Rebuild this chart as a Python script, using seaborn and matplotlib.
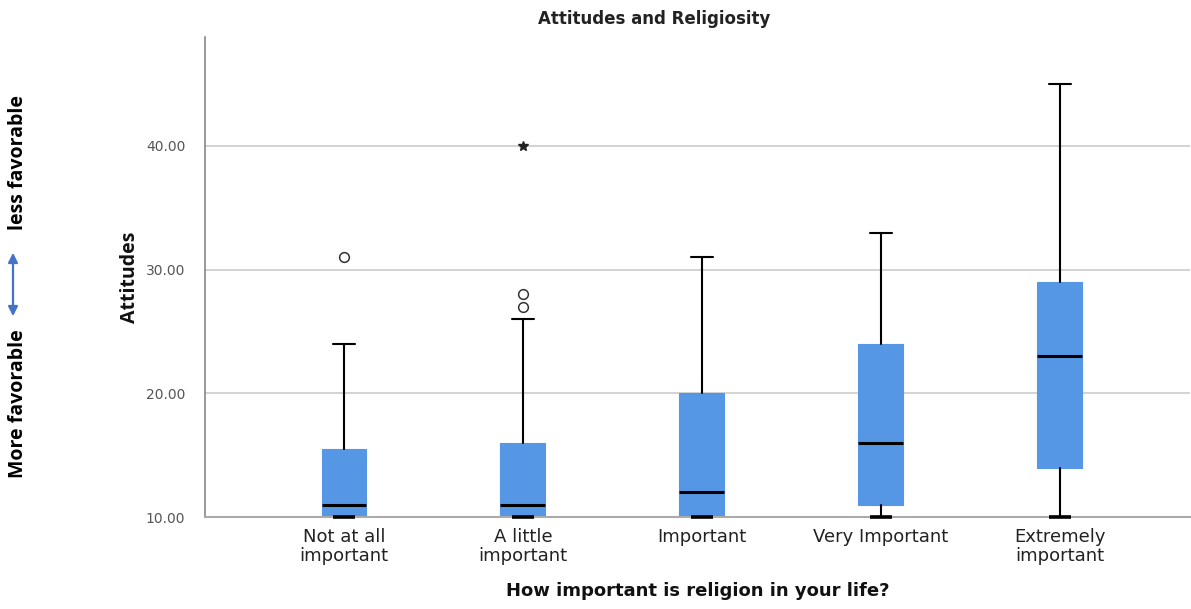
import matplotlib
matplotlib.use("Agg")
import matplotlib.pyplot as plt
import seaborn as sns

# Five-number summaries per religiosity level
categories = ["Not at all\nimportant", "A little\nimportant", "Important",
              "Very Important", "Extremely\nimportant"]
whisker_low = [10, 10, 10, 10, 10]
q1 = [10, 10, 10, 11, 14]
median = [11, 11, 12, 16, 23]
q3 = [15.5, 16, 20, 24, 29]
whisker_high = [24, 26, 31, 33, 45]
outliers = [[31], [27, 28], [], [], []]
extremes = [[], [40], [], [], []]

y_ticks = [10, 20, 30, 40]

sns.set_theme(style="white")
plt.rcParams["font.family"] = ["DejaVu Sans"]

fig = plt.figure(figsize=(11.91, 6.09), dpi=100)
ax = fig.add_axes([0.172, 0.151, 0.827, 0.788])

box_color = "#5596E5"
stats = []
for i, lab in enumerate(categories):
    stats.append(dict(label=lab, whislo=whisker_low[i], q1=q1[i], med=median[i],
                      q3=q3[i], whishi=whisker_high[i], fliers=outliers[i]))

positions = list(range(len(categories)))
ax.bxp(stats, positions=positions, widths=0.25, patch_artist=True,
       showfliers=True, capwidths=0.125,
       boxprops=dict(facecolor=box_color, edgecolor=box_color, linewidth=0.8),
       medianprops=dict(color="black", linewidth=2.2),
       whiskerprops=dict(color="black", linewidth=1.5),
       capprops=dict(color="black", linewidth=1.5),
       flierprops=dict(marker="o", markerfacecolor="white", markeredgecolor="#333333",
                       markersize=7, markeredgewidth=1.1))
# bottom caps sit on the baseline and read as thicker strokes
for i in positions:
    ax.plot([i - 0.0625, i + 0.0625], [whisker_low[i]] * 2, color="black",
            linewidth=2.6, solid_capstyle="butt", zorder=4, clip_on=False)

for i, vals in enumerate(extremes):
    for v in vals:
        ax.plot(i, v, marker="*", color="#222222", markersize=7, zorder=5)

ax.set_xlim(-0.777, 4.727)
ax.set_ylim(10, 48.8)
ax.set_yticks(y_ticks)
ax.set_yticklabels([f"{t:.2f}" for t in y_ticks], color="#555555", fontsize=10)
ax.set_xticks(positions)
ax.set_xticklabels(categories, fontsize=13, color="#222222", linespacing=1.05)
ax.tick_params(axis="x", length=0, pad=8)
ax.tick_params(axis="y", length=0, pad=14)

ax.yaxis.grid(True, color="#cccccc", linewidth=1.2)
ax.set_axisbelow(True)
for side in ["top", "right"]:
    ax.spines[side].set_visible(False)
ax.spines["left"].set_color("#888888")
ax.spines["bottom"].set_color("#aaaaaa")
ax.spines["left"].set_linewidth(1.2)
ax.spines["bottom"].set_linewidth(1.5)

ax.set_xlabel("How important is religion in your life?", fontsize=13,
              fontweight="bold", color="#111111", labelpad=12)
ax.set_ylabel("Attitudes", fontsize=14, fontweight="bold", family="Open Sans",
              color="#111111", labelpad=4)

fig.text(654 / 1191, 1 - 19 / 609, "Attitudes and Religiosity", ha="center", va="center",
         fontsize=12, fontweight="bold", color="#222222")

# direction of the attitude scale
fig.text(18 / 1191, 1 - 163 / 609, "less favorable", rotation=90, ha="center",
         va="center", fontsize=14, fontweight="bold", family="Open Sans", color="black")
fig.text(18 / 1191, 1 - 404 / 609, "More favorable", rotation=90, ha="center",
         va="center", fontsize=14, fontweight="bold", family="Open Sans", color="black")
fig.patches.append(matplotlib.patches.FancyArrowPatch(
    (13 / 1191, 1 - 250 / 609), (13 / 1191, 1 - 319 / 609), transform=fig.transFigure,
    arrowstyle="<|-|>", mutation_scale=14, color="#4472C4", linewidth=1.6))

fig.savefig("out.png", dpi=100, facecolor="white")
